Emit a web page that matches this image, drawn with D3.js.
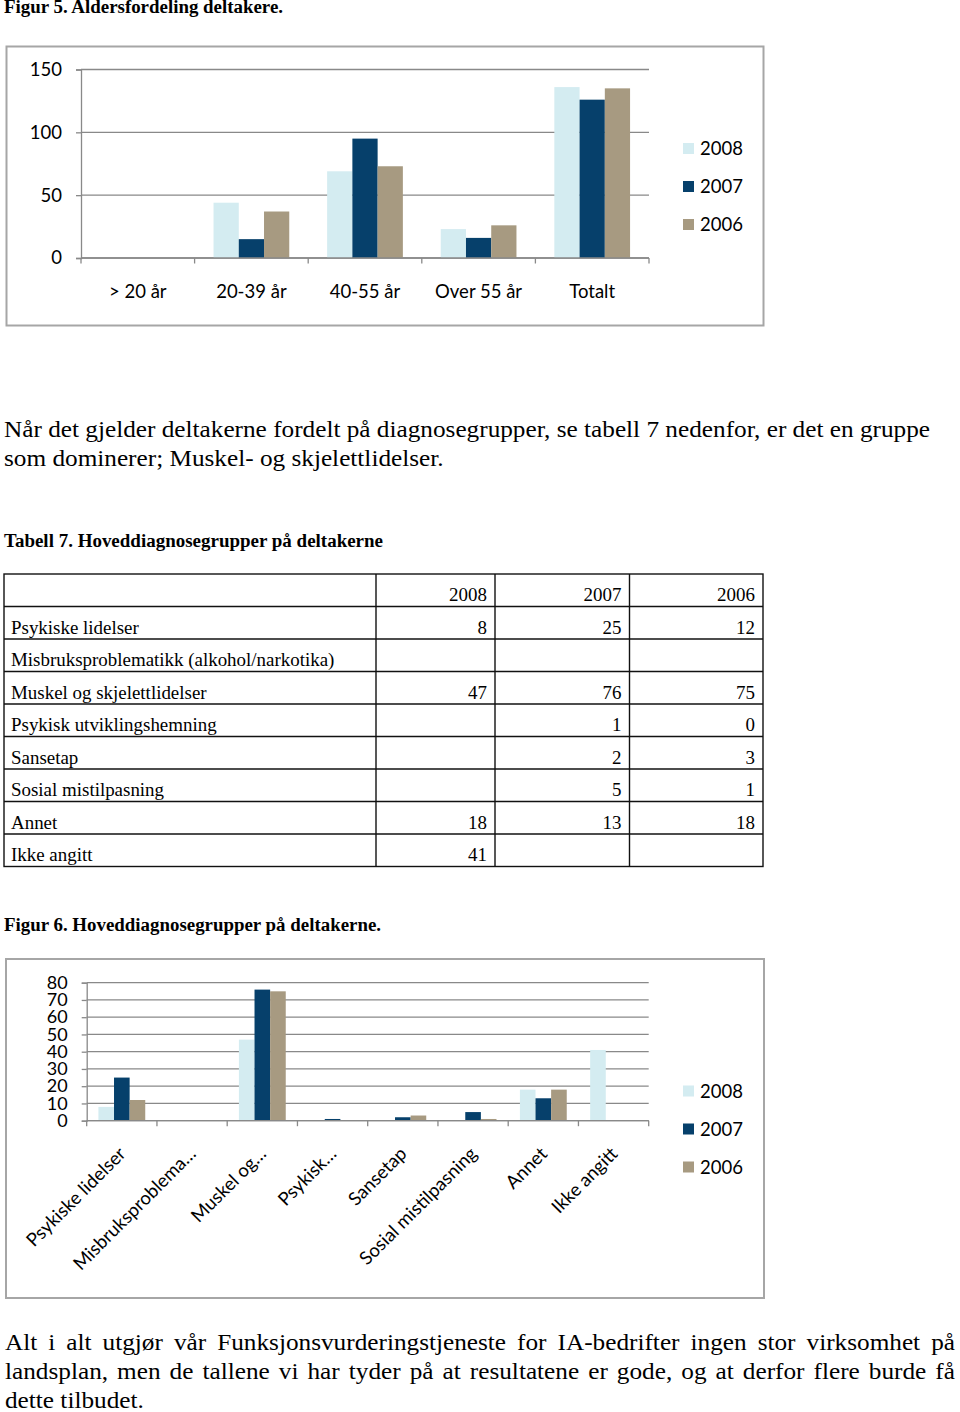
<!DOCTYPE html>
<html><head><meta charset="utf-8">
<script src="https://cdn.jsdelivr.net/npm/d3@7"></script>
<style>body{margin:0;background:#fff} svg{display:block}</style>
</head><body>
<svg id="c" width="960" height="1412"></svg>
<script>
// ---------- data ----------
const ageCategories = ["> 20 år","20-39 år","40-55 år","Over 55 år","Totalt"];
const years = ["2008","2007","2006"];
const age2008 = [null,44,69,23,136];
const age2007 = [null,15,95,16,126];
const age2006 = [null,37,73,26,135];
const ageTicks = [0,50,100,150];

const diagCategories = ["Psykiske lidelser","Misbruksproblematikk (alkohol/narkotika)","Muskel og skjelettlidelser","Psykisk utviklingshemning","Sansetap","Sosial mistilpasning","Annet","Ikke angitt"];
const diagAxisLabels = ["Psykiske lidelser","Misbruksproblema…","Muskel og…","Psykisk…","Sansetap","Sosial mistilpasning","Annet","Ikke angitt"];
const diag2008 = [8,null,47,null,null,null,18,41];
const diag2007 = [25,null,76,1,2,5,13,null];
const diag2006 = [12,null,75,0,3,1,18,null];
const diagTicks = [0,10,20,30,40,50,60,70,80];

const colors = ["#d4ecf1","#06406b","#a79a81"];

const title5 = "Figur 5. Aldersfordeling deltakere.";
const para1 = ["Når det gjelder deltakerne fordelt på diagnosegrupper, se tabell 7 nedenfor, er det en gruppe","som dominerer; Muskel- og skjelettlidelser."];
const title7 = "Tabell 7. Hoveddiagnosegrupper på deltakerne";
const title6 = "Figur 6. Hoveddiagnosegrupper på deltakerne.";
const para2 = ["Alt i alt utgjør vår Funksjonsvurderingstjeneste for IA-bedrifter ingen stor virksomhet på","landsplan, men de tallene vi har tyder på at resultatene er gode, og at derfor flere burde få","dette tilbudet."];

// ---------- helpers ----------
const svg = d3.select("#c");
svg.append("rect").attr("width",960).attr("height",1412).attr("fill","#fff");
const SERIF = "'Liberation Serif','Times New Roman',serif";
const SANS = "Lato, 'Open Sans', sans-serif";

function serif(str, x, y, size, opts={}) {
  const t = svg.append("text").attr("x",x).attr("y",y)
    .attr("font-family",SERIF).attr("font-size",size)
    .attr("font-weight",opts.bold?"bold":"normal").attr("fill","#000").text(str);
  if (opts.anchor) t.attr("text-anchor",opts.anchor);
  if (opts.width) t.attr("textLength",opts.width).attr("lengthAdjust","spacingAndGlyphs");
  else if (opts.scale) {
    const w = t.node().getComputedTextLength();
    t.attr("textLength",w*opts.scale).attr("lengthAdjust","spacingAndGlyphs");
  }
  return t;
}
function measure(str,size,bold){
  const t = svg.append("text").attr("font-family",SERIF).attr("font-size",size)
    .attr("font-weight",bold?"bold":"normal").text(str);
  const w = t.node().getComputedTextLength(); t.remove(); return w;
}
const F = 926 / measure(para1[0],24,false);

function justify(str,x0,x1,y,size){
  const words = str.split(" ");
  const items = words.map(w=>{
    const t = svg.append("text").attr("y",y).attr("font-family",SERIF).attr("font-size",size).attr("fill","#000").text(w);
    const len = t.node().getComputedTextLength()*F;
    t.attr("textLength",len).attr("lengthAdjust","spacingAndGlyphs");
    return {t,len};
  });
  const total = d3.sum(items,d=>d.len);
  const gap = (x1-x0-total)/(words.length-1);
  let x = x0;
  items.forEach(d=>{ d.t.attr("x",x); x += d.len+gap; });
}

// ---------- texts ----------
serif(title5,4,12.5,18,{bold:true,width:279});
serif(para1[0],4,436.5,24,{width:926});
serif(para1[1],4,465.5,24,{scale:F});
serif(title7,4,546.5,18,{bold:true,width:379});
serif(title6,4,931,18,{bold:true,width:377});
justify(para2[0],5,955,1349.5,24);
justify(para2[1],5,955,1378.5,24);
serif(para2[2],5,1407.5,24,{scale:F});

// ---------- frames ----------
svg.append("rect").attr("x",6.5).attr("y",46.5).attr("width",757).attr("height",279)
  .attr("fill","none").attr("stroke","#a6a6a6").attr("stroke-width",2);
svg.append("rect").attr("x",6).attr("y",959).attr("width",758).attr("height",339)
  .attr("fill","none").attr("stroke","#a6a6a6").attr("stroke-width",2);

// ---------- grouped bar chart ----------
function barChart(cfg){
  const g = svg.append("g");
  const x = d3.scaleBand().domain(d3.range(cfg.cats.length)).range([cfg.x0,cfg.x1]);
  const y = d3.scaleLinear().domain([0,cfg.max]).range([cfg.yBase,cfg.yTop]);
  const bw = x.bandwidth()/4.5;
  const off = x.bandwidth()*0.75/4.5;
  // gridlines
  g.selectAll("line.grid").data(cfg.ticks).join("line")
    .attr("x1",cfg.x0).attr("x2",cfg.x1).attr("y1",d=>y(d)).attr("y2",d=>y(d))
    .attr("stroke","#898989").attr("stroke-width",1.3);
  // y axis
  const ya = g.append("g").attr("transform",`translate(${cfg.x0},0)`)
    .call(d3.axisLeft(y).tickValues(cfg.ticks).tickSize(5).tickPadding(cfg.yPad));
  ya.select(".domain").attr("stroke","#898989").attr("stroke-width",1.3);
  ya.selectAll(".tick line").attr("stroke","#898989").attr("stroke-width",1.3);
  ya.selectAll(".tick text").attr("font-family",SANS).attr("font-size",cfg.yfs).attr("fill","#000");
  // bars
  cfg.series.forEach((s,si)=>{
    g.selectAll(null).data(s.map((v,i)=>({v,i})).filter(d=>d.v!=null && d.v>0)).join("rect")
      .attr("x",d=>x(d.i)+off+si*bw).attr("width",bw)
      .attr("y",d=>y(d.v)).attr("height",d=>y(0)-y(d.v))
      .attr("fill",colors[si]);
  });
  // x axis
  g.append("line").attr("x1",cfg.x0).attr("x2",cfg.x1).attr("y1",cfg.yBase).attr("y2",cfg.yBase)
    .attr("stroke","#898989").attr("stroke-width",1.3);
  g.selectAll("line.xt").data(d3.range(cfg.cats.length+1)).join("line")
    .attr("x1",i=>cfg.x0+i*x.step()).attr("x2",i=>cfg.x0+i*x.step())
    .attr("y1",cfg.yBase).attr("y2",cfg.yBase+5.5).attr("stroke","#898989").attr("stroke-width",1.3);
  // x labels
  if (cfg.rotate){
    g.selectAll("text.xl").data(cfg.labels).join("text")
      .attr("transform",(d,i)=>`translate(${x(i)+x.bandwidth()/2+cfg.lx},${cfg.ly}) rotate(-45)`)
      .attr("text-anchor","end").attr("font-family",SANS).attr("font-size",cfg.fs).attr("fill","#000").text(d=>d);
  } else {
    g.selectAll("text.xl").data(cfg.labels).join("text")
      .attr("x",(d,i)=>x(i)+x.bandwidth()/2).attr("y",cfg.ly)
      .attr("text-anchor","middle").attr("font-family",SANS).attr("font-size",cfg.fs).attr("fill","#000").text(d=>d);
  }
  // legend
  years.forEach((yr,i)=>{
    const ly = cfg.legY + i*38;
    g.append("rect").attr("x",683).attr("y",ly-5.5).attr("width",11).attr("height",11).attr("fill",colors[i]);
    g.append("text").attr("x",700).attr("y",ly).attr("dy","0.36em").attr("font-family",SANS)
      .attr("font-size",cfg.fs).attr("fill","#000").text(yr);
  });
}

barChart({cats:ageCategories,labels:ageCategories,series:[age2008,age2007,age2006],
  x0:81,x1:649,yBase:258,yTop:69.5,max:150,ticks:ageTicks,yPad:14,fs:18.5,yfs:18.5,
  ly:298,rotate:false,legY:148.5});

barChart({cats:diagCategories,labels:diagAxisLabels,series:[diag2008,diag2007,diag2006],
  x0:86.7,x1:648.7,yBase:1120.7,yTop:982.7,max:80,ticks:diagTicks,yPad:14,fs:18.5,yfs:18,
  ly:1155,lx:5,rotate:true,legY:1091});

// ---------- table ----------
const tbl = svg.append("g");
const tx = [4,376,495,629.5,763];
const ty0 = 574, rh = 32.5;
const nRows = diagCategories.length+1;
tbl.append("rect").attr("x",tx[0]).attr("y",ty0).attr("width",tx[4]-tx[0]).attr("height",rh*nRows)
  .attr("fill","none").attr("stroke","#111").attr("stroke-width",1.4);
d3.range(1,nRows).forEach(r=>tbl.append("line").attr("x1",tx[0]).attr("x2",tx[4])
  .attr("y1",ty0+r*rh).attr("y2",ty0+r*rh).attr("stroke","#111").attr("stroke-width",1.4));
[1,2,3].forEach(c=>tbl.append("line").attr("x1",tx[c]).attr("x2",tx[c])
  .attr("y1",ty0).attr("y2",ty0+rh*nRows).attr("stroke","#111").attr("stroke-width",1.4));
years.forEach((yr,i)=>serif(yr,tx[i+2]-8,ty0+rh-5.5,18,{anchor:"end",scale:F}));
const cols = [diag2008,diag2007,diag2006];
diagCategories.forEach((c,r)=>{
  const by = ty0+(r+2)*rh-5.5;
  serif(c,11,by,18,{scale:F});
  cols.forEach((s,i)=>{ if (s[r]!=null) serif(String(s[r]),tx[i+2]-8,by,18,{anchor:"end",scale:F}); });
});
</script>
</body></html>
